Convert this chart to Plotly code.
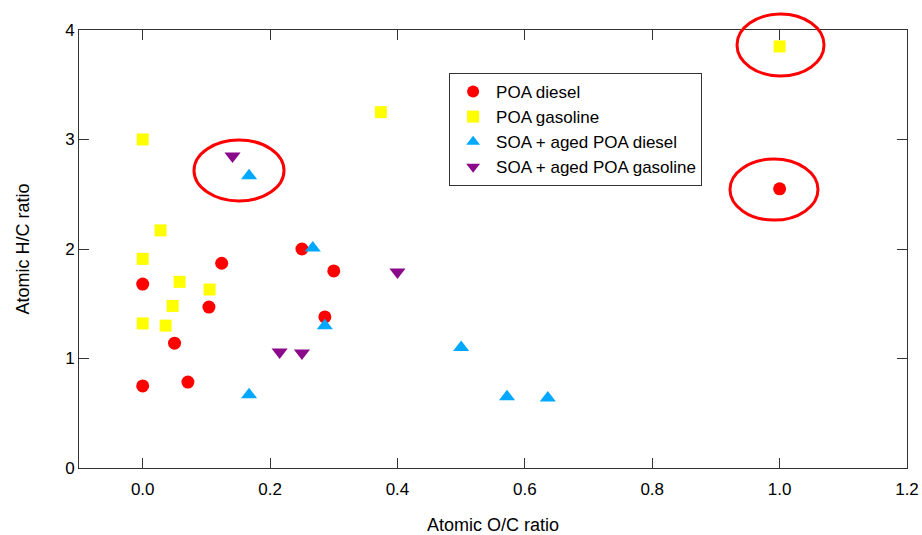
import plotly.graph_objects as go

# POA diesel
poa_diesel_oc = [0.0, 0.0, 0.05, 0.071, 0.104, 0.124, 0.25, 0.30, 0.286, 1.0]
poa_diesel_hc = [0.75, 1.68, 1.14, 0.785, 1.47, 1.87, 2.0, 1.80, 1.38, 2.55]

# POA gasoline
poa_gas_oc = [0.0, 0.0, 0.028, 0.058, 0.047, 0.036, 0.0, 0.105, 0.374, 1.0]
poa_gas_hc = [3.0, 1.91, 2.17, 1.70, 1.48, 1.30, 1.32, 1.63, 3.25, 3.85]

# SOA + aged POA diesel
soa_diesel_oc = [0.167, 0.267, 0.286, 0.5, 0.572, 0.636, 0.167]
soa_diesel_hc = [2.67, 2.01, 1.30, 1.10, 0.65, 0.64, 0.67]

# SOA + aged POA gasoline
soa_gas_oc = [0.141, 0.215, 0.25, 0.40]
soa_gas_hc = [2.85, 1.06, 1.05, 1.79]

FONT = "Liberation Sans, Arial, sans-serif"

fig = go.Figure()
fig.add_trace(go.Scatter(x=poa_diesel_oc, y=poa_diesel_hc, mode="markers", name="POA diesel",
                         marker=dict(symbol="circle", size=13, color="#FF0000")))
fig.add_trace(go.Scatter(x=poa_gas_oc, y=poa_gas_hc, mode="markers", name="POA gasoline",
                         marker=dict(symbol="square", size=12, color="#FFFF00")))
fig.add_trace(go.Scatter(x=soa_diesel_oc, y=soa_diesel_hc, mode="markers", name="SOA + aged POA diesel",
                         marker=dict(symbol="triangle-up", size=14, color="#00A8FF")))
fig.add_trace(go.Scatter(x=soa_gas_oc, y=soa_gas_hc, mode="markers", name="SOA + aged POA gasoline",
                         marker=dict(symbol="triangle-down", size=14, color="#8B0A8B")))

ell = dict(type="circle", xref="paper", yref="paper", line=dict(color="#FF0000", width=3), layer="above")
fig.add_shape(**ell, x0=0.1389, x1=0.2476, y0=0.6096, y1=0.7489)
fig.add_shape(**ell, x0=0.7947, x1=0.8998, y0=0.895, y1=1.0365)
fig.add_shape(**ell, x0=0.7862, x1=0.8925, y0=0.566, y1=0.7055)

axis_common = dict(showline=True, linecolor="#333333", linewidth=1, mirror="ticks",
                   ticks="inside", ticklen=10, tickcolor="#333333", tickwidth=1,
                   showgrid=False, zeroline=False, automargin=False,
                   tickfont=dict(family=FONT, size=17, color="#000"))

fig.update_xaxes(range=[-0.1, 1.2], tickvals=[0, 0.2, 0.4, 0.6, 0.8, 1.0, 1.2],
                 ticktext=["0.0", "0.2", "0.4", "0.6", "0.8", "1.0", "1.2"],
                 ticklabelstandoff=6,
                 title=dict(text="Atomic O/C ratio", font=dict(family=FONT, size=18, color="#000"), standoff=22),
                 **axis_common)
fig.update_yaxes(range=[0, 4], tickvals=[0, 1, 2, 3, 4],
                 title=dict(text="Atomic H/C ratio", font=dict(family=FONT, size=18, color="#000"), standoff=30),
                 **axis_common)

fig.update_layout(
    width=922, height=535,
    margin=dict(l=79, r=15, t=30, b=67),
    paper_bgcolor="white", plot_bgcolor="white",
    font=dict(family=FONT, size=17, color="#000"),
    legend=dict(x=0.447, y=0.902, xanchor="left", yanchor="top",
                bordercolor="#333333", borderwidth=1, bgcolor="white",
                font=dict(family=FONT, size=17, color="#000"),
                tracegroupgap=0, itemsizing="constant", itemwidth=36),
    showlegend=True,
)

fig.write_html("out.html")
